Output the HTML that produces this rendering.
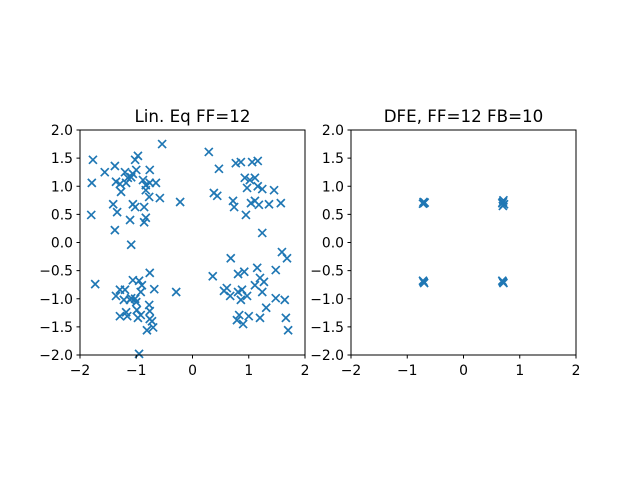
<!DOCTYPE html>
<html><head><meta charset="utf-8"><style>
body{margin:0;background:#fff}
svg{font-family:"DejaVu Sans","Liberation Sans",sans-serif}
</style></head><body>
<svg id="fig" width="640" height="480" viewBox="0 0 640 480"></svg>
<script>
const xTicks=[-2,-1,0,1,2];
const yTicks=[-2.0,-1.5,-1.0,-0.5,0.0,0.5,1.0,1.5,2.0];
const titles=["Lin. Eq FF=12","DFE, FF=12 FB=10"];
const linX=[-1.77,-1.79,-1.80,-1.56,-1.38,-1.36,-1.34,-1.38,-1.29,-1.18,-1.09,-1.02,-1.06,-1.11,-0.97,-0.88,-0.83,-0.86,-0.83,-0.77,-0.76,-0.76,-0.54,-0.65,-0.58,-1.20,-1.09,-1.41,-1.27,-0.86,-0.83,-1.02,-1.15,-1.00,-0.22,-1.06,
0.29,0.47,0.38,0.44,0.77,0.86,1.06,1.16,0.93,0.72,0.74,0.97,0.95,1.04,1.11,1.16,1.24,1.11,1.36,1.45,1.57,1.24,1.02,1.18,
-0.95,-1.73,-1.36,-1.29,-1.20,-1.06,-0.95,-0.90,-0.76,-0.68,-1.22,-1.18,-1.16,-1.02,-1.11,-1.00,-0.92,-0.97,-0.72,-0.70,-0.76,-0.81,-0.76,-0.77,-0.29,-0.99,-1.09,-1.29,-0.92,
0.36,0.68,0.92,0.81,0.86,1.15,0.97,0.56,0.67,0.61,0.88,0.81,1.00,1.20,1.27,1.24,1.11,1.31,1.48,1.59,1.68,1.64,1.48,1.66,1.70,0.79,0.90,0.83,1.20];
const linY=[1.47,1.06,0.49,1.25,1.36,1.08,0.54,0.22,1.04,1.06,1.16,1.47,1.22,0.40,1.54,1.11,1.02,0.63,0.93,0.81,1.06,1.29,1.75,1.06,0.79,1.25,-0.04,0.68,0.90,0.36,0.44,0.63,1.15,1.29,0.72,0.68,
1.61,1.31,0.88,0.83,1.41,1.43,1.43,1.45,1.15,0.74,0.63,0.97,0.49,0.70,0.74,1.00,0.95,1.15,0.68,0.93,0.70,0.17,1.11,0.67,
-1.98,-0.74,-0.95,-0.84,-0.84,-0.67,-0.68,-0.76,-0.54,-0.83,-1.02,-1.24,-1.31,-1.00,-1.02,-1.06,-1.29,-1.34,-1.40,-1.51,-1.22,-1.56,-1.36,-1.11,-0.88,-1.20,-0.99,-1.31,-0.88,
-0.60,-0.28,-0.52,-0.88,-1.02,-0.45,-0.95,-0.86,-0.95,-0.81,-0.84,-0.56,-1.31,-0.63,-0.70,-0.88,-0.76,-1.16,-0.49,-0.17,-0.28,-1.02,-0.99,-1.34,-1.56,-1.38,-1.45,-1.29,-1.34];
const dfeX=[-0.71,-0.70,-0.72,-0.69,0.70,0.71,0.72,0.69,0.70,-0.71,-0.70,-0.72,0.70,0.71,0.69];
const dfeY=[0.72,0.70,0.69,0.71,0.72,0.75,0.68,0.70,0.65,-0.70,-0.72,-0.68,-0.70,-0.72,-0.68];
const NS="http://www.w3.org/2000/svg";
const svg=document.getElementById('fig');
function mk(t,a,p){const e=document.createElementNS(NS,t);for(const k in a)e.setAttribute(k,a[k]);(p||svg).appendChild(e);return e;}
const axes=[{x0:80,series:[linX,linY]},{x0:351,series:[dfeX,dfeY]}];
const W=225,H=225,Y0=130;
axes.forEach((ax,i)=>{
  const g=mk('g',{});
  
  
  const sx=v=>ax.x0+(v+2)/4*W, sy=v=>Y0+(2-v)/4*H;
  const t=mk('text',{x:ax.x0+W/2,y:Y0-8,'text-anchor':'middle','font-size':'16.7'},g);
  t.textContent=titles[i];
  
  
  const [xs,ys]=ax.series;
  for(let k=0;k<xs.length;k++){
    const px=sx(xs[k]),py=sy(ys[k]),r=4;
    const m=mk('path',{d:`M${px-r},${py-r}L${px+r},${py+r}M${px-r},${py+r}L${px+r},${py-r}`,stroke:'#1f77b4','stroke-width':1.7,fill:'none'},g);
    
    
  }
  const fr=mk('rect',{x:ax.x0,y:Y0,width:W,height:H,fill:'none',stroke:'#000','stroke-width':1},g);
  
  
  xTicks.forEach(v=>{
    mk('line',{x1:sx(v),x2:sx(v),y1:Y0+H,y2:Y0+H+3.5,stroke:'#000'},g);
    const l=mk('text',{x:sx(v),y:Y0+H+20,'text-anchor':'middle','font-size':'13.9'},g);
    l.textContent=v<0?'\u2212'+(-v):String(v);
    
    
  });
  yTicks.forEach(v=>{
    mk('line',{x1:ax.x0-3.5,x2:ax.x0,y1:sy(v),y2:sy(v),stroke:'#000'},g);
    const l=mk('text',{x:ax.x0-7,y:sy(v)+5,'text-anchor':'end','font-size':'13.9'},g);
    l.textContent=(v<0?'\u2212':'')+Math.abs(v).toFixed(1);
    
    
  });
});
</script>
</body></html>
